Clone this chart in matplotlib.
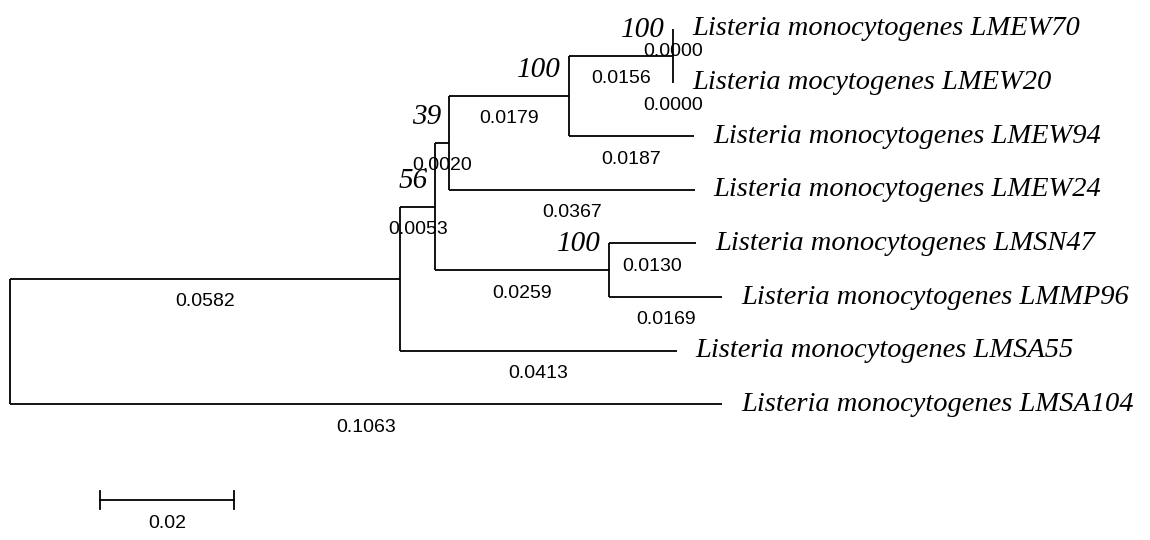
import matplotlib.pyplot as plt

# Hojas (orden de arriba a abajo)
taxa = ['Listeria monocytogenes LMEW70', 'Listeria mocytogenes LMEW20',
        'Listeria monocytogenes LMEW94', 'Listeria monocytogenes LMEW24',
        'Listeria monocytogenes LMSN47', 'Listeria monocytogenes LMMP96',
        'Listeria monocytogenes LMSA55', 'Listeria monocytogenes LMSA104']

# Nodos: primero las hojas, luego los internos
nodes = ['LMEW70', 'LMEW20', 'LMEW94', 'LMEW24', 'LMSN47', 'LMMP96', 'LMSA55', 'LMSA104',
         'n1', 'n2', 'n3', 'n4', 'n5', 'n6', 'root']
parents = ['n1', 'n1', 'n2', 'n3', 'n4', 'n4', 'n6', 'root',
           'n2', 'n3', 'n5', 'n5', 'n6', 'root', None]
branch_len = [0.0000, 0.0000, 0.0187, 0.0367, 0.0130, 0.0169, 0.0413, 0.1063,
              0.0156, 0.0179, 0.0020, 0.0259, 0.0053, 0.0582, 0.0]
bootstrap = {'n1': 100, 'n2': 100, 'n3': 39, 'n4': 100, 'n5': 56}

scale_len = 0.02

num_font = 'Liberation Sans'
num_size = 14

# Posiciones: x = distancia a la raiz, y = indice de hoja / media de los hijos
x = {'root': 0.0}
order = ['root', 'n6', 'n5', 'n3', 'n4', 'n2', 'n1'] + nodes[:8]
for n in order[1:]:
    i = nodes.index(n)
    x[n] = x[parents[i]] + branch_len[i]

y = {n: i for i, n in enumerate(nodes[:8])}
for n in ['n1', 'n2', 'n3', 'n4', 'n5', 'n6', 'root']:
    kids = [c for c, p in zip(nodes, parents) if p == n]
    y[n] = sum(y[c] for c in kids) / len(kids)

px = 6700.0   # pixeles por unidad
row = 53.6    # pixeles por hoja
fig = plt.figure(figsize=(11.5, 5.4), dpi=100)
ax = fig.add_axes([0, 0, 1, 1])
ax.set_xlim(-10 / px, 1140 / px)
ax.set_ylim((540 - 29) / row, -29 / row)
ax.axis('off')

lw = 1.3
for n, p, bl in zip(nodes, parents, branch_len):
    if p is None:
        continue
    ax.plot([x[p], x[n]], [y[n], y[n]], color='black', lw=lw, solid_capstyle='butt')
    ax.annotate(f'{bl:.4f}', ((x[p] + x[n]) / 2, y[n]), xytext=(0, -23),
                textcoords='offset pixels', ha='center', va='center',
                fontsize=num_size, family=num_font)

for n in ['n1', 'n2', 'n3', 'n4', 'n5', 'n6', 'root']:
    kids = [c for c, p in zip(nodes, parents) if p == n]
    ys = [y[c] for c in kids]
    ax.plot([x[n], x[n]], [min(ys), max(ys)], color='black', lw=lw, solid_capstyle='butt')
    if n in bootstrap:
        ax.annotate(str(bootstrap[n]), (x[n], y[n]), xytext=(-8, 26),
                    textcoords='offset pixels', ha='right', va='center',
                    fontsize=21, family='Liberation Serif', style='italic')

for i, name in enumerate(taxa):
    leaf = nodes[i]
    ax.annotate(name, (x[leaf], y[leaf]), xytext=(19, 0), textcoords='offset pixels',
                ha='left', va='center', fontsize=20.5, family='Liberation Serif', style='italic')

# Barra de escala
x0 = 90 / px
yb = (500 - 29) / row
ax.plot([x0, x0 + scale_len], [yb, yb], color='black', lw=lw)
for xe in [x0, x0 + scale_len]:
    ax.plot([xe, xe], [yb - 9 / row, yb + 9 / row], color='black', lw=lw)
ax.annotate(f'{scale_len:g}', (x0 + scale_len / 2, yb), xytext=(0, -23),
            textcoords='offset pixels', ha='center', va='center',
            fontsize=num_size, family=num_font)

fig.savefig('out.png', dpi=100)
